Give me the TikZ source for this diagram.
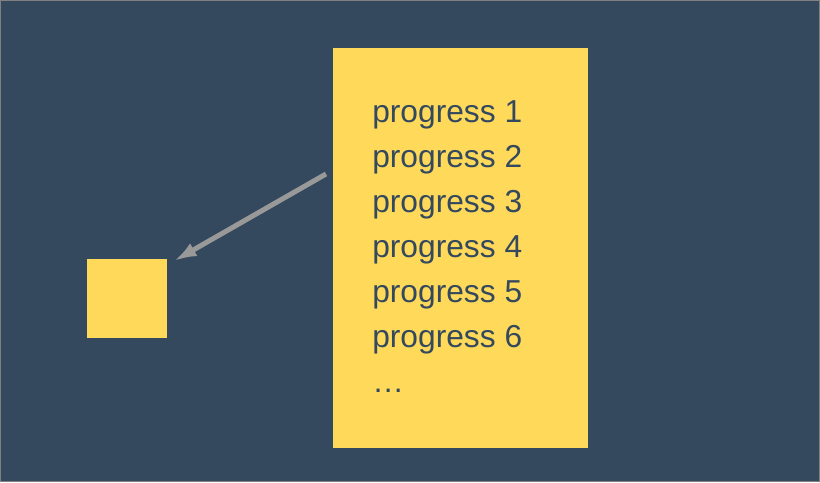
\documentclass[tikz,border=0pt]{standalone}
\usepackage{fontspec}
\setmainfont{Liberation Sans}
\usetikzlibrary{arrows.meta}
\usetikzlibrary{positioning}
\definecolor{slate}{RGB}{52,73,94}
\definecolor{sunny}{RGB}{255,217,90}
\definecolor{pointer}{RGB}{153,153,153}
\tikzset{card/.style = {fill = sunny, draw = none, inner sep = 0, outer sep = 0},
  line/.style = {anchor = base west, inner sep = 0, text = slate, font = \fontsize{23.8}{28}\selectfont}}

\begin{document}
\begin{tikzpicture}[x = 0.75pt, y = -0.75pt]
      \useasboundingbox (0, 0) rectangle (820, 482);
      \draw [fill = slate, draw = gray, line width = 0.75pt] (0.5, 0.5) rectangle (819.5, 481.5);
      \node [card, minimum width = 255*0.75pt, minimum height = 400*0.75pt, anchor = north west] (list) at (333, 48) {};
      \node [card, minimum width = 80*0.75pt, minimum height = 79*0.75pt, anchor = north west] (box) at (87, 259) {};
      \foreach \i in {1, ..., 6}
        \node [line] (p\i) at (372, 77 + 45*\i) {progress \i};
      \node [line] (more) at (372, 392) {\dots};
      \coordinate (start) at (326, 174);
      \draw [pointer, line width = 3.75pt, -{Latex[length = 17pt, width = 11pt]}] (start) -- ([shift = {(7, 2)}]box.north east);
    \end{tikzpicture}
\end{document}
